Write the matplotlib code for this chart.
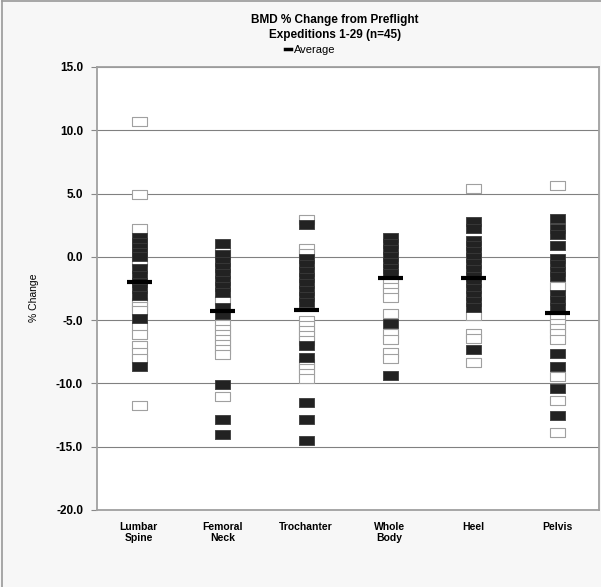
import matplotlib.pyplot as plt
from matplotlib.lines import Line2D

# sites along x
sites = ["Lumbar\nSpine", "Femoral\nNeck", "Trochanter", "Whole\nBody", "Heel", "Pelvis"]

# open squares
open_lumbar = [10.7, 5.0, 2.3, -0.3, -3.6, -3.9, -4.2, -5.5, -6.1, -7.0, -7.5, -8.0, -11.7]
open_femoral = [0.4, -3.4, -5.3, -5.7, -6.1, -6.5, -6.9, -7.3, -7.7, -11.0]
open_trochanter = [3.0, 0.7, 0.3, -5.0, -5.4, -5.8, -6.2, -6.6, -8.4, -8.8, -9.2, -9.6]
open_whole = [-2.0, -2.4, -2.8, -3.2, -4.4, -6.0, -6.5, -7.5, -8.0]
open_heel = [5.4, -4.6, -6.0, -6.4, -8.3]
open_pelvis = [5.7, -2.3, -4.8, -5.2, -5.6, -6.0, -6.5, -9.45, -11.3, -13.8]

# filled squares
filled_lumbar = [1.6, 1.2, 0.8, 0.4, 0.1, -0.9, -1.4, -2.0, -2.5, -3.0, -4.8, -8.65]
filled_femoral = [1.1, 0.2, -0.3, -0.8, -1.3, -1.8, -2.3, -2.8, -4.0, -4.5, -10.05, -12.8, -14.0]
filled_trochanter = [2.6, -0.1, -0.6, -1.1, -1.6, -2.1, -2.6, -3.1, -3.6, -7.0, -7.9,
                     -11.5, -12.8, -14.5]
filled_whole = [1.6, 1.1, 0.6, 0.1, -0.4, -0.9, -1.3, -5.2, -9.3]
filled_heel = [2.8, 2.3, 1.3, 0.9, 0.5, 0.0, -0.5, -1.0, -1.5, -2.0, -2.5, -3.0, -3.5,
               -4.0, -7.3]
filled_pelvis = [3.1, 2.3, 1.8, 0.9, -0.1, -0.6, -1.1, -1.5, -2.9, -3.4, -4.0, -7.6,
                 -8.65, -10.4, -12.5]

averages = [-1.95, -4.24, -4.18, -1.68, -1.68, -4.45]

open_vals = [open_lumbar, open_femoral, open_trochanter, open_whole, open_heel, open_pelvis]
filled_vals = [filled_lumbar, filled_femoral, filled_trochanter, filled_whole, filled_heel,
               filled_pelvis]

# wide rectangle marker
rect = [(-1, -0.6), (1, -0.6), (1, 0.6), (-1, 0.6), (-1, -0.6)]

plt.rcParams['font.family'] = ['Liberation Sans', 'DejaVu Sans']

fig = plt.figure(figsize=(6.01, 5.87), dpi=100, facecolor='#f7f7f7')
ax = fig.add_axes([0.1614, 0.1312, 0.835, 0.7547])
ax.set_facecolor('white')

for i in range(len(sites)):
    ax.plot([i] * len(open_vals[i]), open_vals[i], linestyle='none', marker=rect,
            markersize=10.8, markerfacecolor='white', markeredgecolor='#a0a0a0',
            markeredgewidth=0.8, zorder=3)
    ax.plot([i] * len(filled_vals[i]), filled_vals[i], linestyle='none', marker=rect,
            markersize=10.8, markerfacecolor='#222222', markeredgecolor='#3a3a3a',
            markeredgewidth=0.6, zorder=4)

ax.plot(range(len(sites)), averages, linestyle='none', marker='_', markersize=18,
        markeredgewidth=3, color='black', zorder=5)

ax.set_xlim(-0.5, 5.5)
ax.set_ylim(-20, 15)
ax.set_yticks(range(-20, 16, 5))
ax.set_yticklabels([f"{v:.1f}" for v in range(-20, 16, 5)], fontsize=8.5, fontweight='bold')
ax.set_xticks(range(len(sites)))
ax.set_xticklabels(sites, fontsize=7.5, fontweight='bold', linespacing=1.1)
ax.tick_params(axis='x', length=0, pad=9)
ax.tick_params(axis='y', length=4, width=0.8, color='#888888', direction='out', pad=6)
ax.yaxis.grid(True, color='#808080', linewidth=0.8)
ax.set_axisbelow(True)
for s in ax.spines.values():
    s.set_color('#a0a0a0')
    s.set_linewidth(1.3)

ax.set_ylabel('% Change', fontsize=7.5)
ax.yaxis.set_label_coords(-0.115, 0.48)

fig.text(0.557, 0.966, 'BMD % Change from Preflight', ha='center', va='center',
         fontsize=8.5, fontweight='bold')
fig.text(0.557, 0.941, 'Expeditions 1-29 (n=45)', ha='center', va='center',
         fontsize=8.5, fontweight='bold')
avg_handle = Line2D([], [], color='black', linewidth=2.5)
ax.legend([avg_handle], ['Average'], loc='center', bbox_to_anchor=(0.425, 1.038),
          frameon=False, fontsize=8, handlelength=0.6, handletextpad=0.25, borderpad=0)

# outer frame of the chart area
fig.add_artist(Line2D([0.004, 0.004], [0, 0.998], transform=fig.transFigure,
                      color='#999999', linewidth=1.2))
fig.add_artist(Line2D([0.004, 1], [0.998, 0.998], transform=fig.transFigure,
                      color='#999999', linewidth=1.2))

fig.savefig('out.png', dpi=100, facecolor=fig.get_facecolor())
